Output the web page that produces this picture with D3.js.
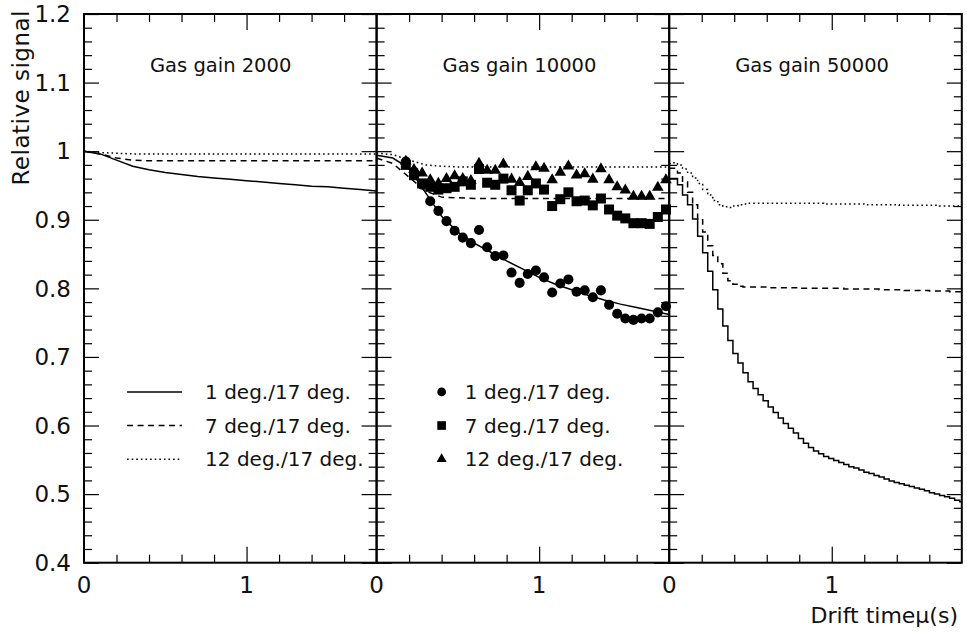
<!DOCTYPE html>
<html>
<head>
<meta charset="utf-8">
<script src="https://cdn.jsdelivr.net/npm/d3@7/dist/d3.min.js"></script>
<style>
  html, body { margin: 0; padding: 0; background: #fff; }
  svg { display: block; }
  text { font-family: "DejaVu Sans", sans-serif; fill: #111; }
</style>
</head>
<body>
<svg id="chart" width="967" height="632"></svg>
<script>
// ---- data -------------------------------------------------------------
const panelTitles = ["Gas gain 2000", "Gas gain 10000", "Gas gain 50000"];
const seriesNames = ["1 deg./17 deg.", "7 deg./17 deg.", "12 deg./17 deg."];
const xTickValues = [0, 1];
const xTickLabels = ["0", "1"];
const yTickValues = [0.4, 0.5, 0.6, 0.7, 0.8, 0.9, 1.0, 1.1, 1.2];
const yTickLabels = ["0.4", "0.5", "0.6", "0.7", "0.8", "0.9", "1", "1.1", "1.2"];
const yTitle = "Relative signal";
const xTitleText = "Drift timeμ(s)";

// simulated curves, gas gain 2000 and 10000 (sampled every 0.1 us)
const curveT = [0, 0.1, 0.2, 0.3, 0.4, 0.5, 0.6, 0.7, 0.8, 0.9, 1.0,
                1.1, 1.2, 1.3, 1.4, 1.5, 1.6, 1.7, 1.8];
const g2000_1deg  = [1.000, 0.996, 0.987, 0.978, 0.973, 0.969, 0.966, 0.963, 0.961, 0.959,
                     0.957, 0.955, 0.953, 0.951, 0.949, 0.948, 0.946, 0.944, 0.942];
const g2000_7deg  = [1.000, 0.996, 0.990, 0.987, 0.986, 0.986, 0.986, 0.986, 0.986, 0.986,
                     0.986, 0.986, 0.986, 0.986, 0.986, 0.986, 0.986, 0.986, 0.986];
const g2000_12deg = [1.000, 0.998, 0.997, 0.996, 0.996, 0.996, 0.996, 0.996, 0.996, 0.996,
                     0.996, 0.996, 0.996, 0.996, 0.996, 0.996, 0.996, 0.996, 0.996];
const g10000_1deg  = [0.994, 0.990, 0.975, 0.940, 0.905, 0.882, 0.866, 0.853, 0.840, 0.828,
                      0.816, 0.806, 0.798, 0.790, 0.783, 0.777, 0.772, 0.767, 0.762];
const g10000_7deg  = [0.990, 0.982, 0.962, 0.942, 0.933, 0.932, 0.931, 0.931, 0.931, 0.931,
                      0.931, 0.931, 0.931, 0.931, 0.931, 0.931, 0.931, 0.931, 0.931];
const g10000_12deg = [0.997, 0.995, 0.987, 0.980, 0.978, 0.977, 0.977, 0.977, 0.977, 0.977,
                      0.977, 0.977, 0.977, 0.977, 0.977, 0.977, 0.977, 0.977, 0.977];

// measured points, gas gain 10000
const measT = [0.18, 0.23, 0.28, 0.33, 0.38, 0.43, 0.48, 0.53, 0.58, 0.63, 0.68,
               0.73, 0.78, 0.83, 0.88, 0.93, 0.98, 1.03, 1.08, 1.13, 1.18, 1.23,
               1.28, 1.33, 1.38, 1.43, 1.48, 1.53, 1.58, 1.63, 1.68, 1.73, 1.78];
const meas1deg  = [0.985, 0.970, 0.951, 0.927, 0.913, 0.898, 0.884, 0.874, 0.866, 0.885, 0.860,
                   0.847, 0.848, 0.823, 0.808, 0.821, 0.826, 0.816, 0.794, 0.807, 0.813, 0.795,
                   0.797, 0.787, 0.797, 0.776, 0.763, 0.756, 0.754, 0.756, 0.756, 0.765, 0.774];
const meas7deg  = [0.980, 0.965, 0.953, 0.948, 0.944, 0.946, 0.948, 0.956, 0.951, 0.974, 0.954,
                   0.951, 0.960, 0.943, 0.928, 0.943, 0.953, 0.944, 0.920, 0.930, 0.940, 0.927,
                   0.928, 0.921, 0.931, 0.915, 0.906, 0.902, 0.895, 0.895, 0.894, 0.904, 0.915];
const meas12deg = [0.985, 0.973, 0.968, 0.958, 0.953, 0.960, 0.964, 0.960, 0.957, 0.982, 0.972,
                   0.972, 0.981, 0.959, 0.954, 0.963, 0.977, 0.975, 0.958, 0.969, 0.978, 0.965,
                   0.967, 0.959, 0.974, 0.958, 0.948, 0.943, 0.934, 0.934, 0.934, 0.947, 0.958];

// simulated histograms, gas gain 50000 (bins of 0.031 us starting at -0.011 us)
const histStart = -0.011;
const histWidth = 0.031;
const g50000_1deg = [0.960, 0.960, 0.951, 0.936, 0.922, 0.901, 0.876, 0.852, 0.825, 0.798,
                     0.770, 0.745, 0.724, 0.705, 0.691, 0.677, 0.664, 0.654, 0.645, 0.636,
                     0.627, 0.619, 0.611, 0.603, 0.596, 0.589, 0.581, 0.574, 0.568, 0.563,
                     0.559, 0.555, 0.552, 0.549, 0.546, 0.543, 0.540, 0.538, 0.535, 0.532,
                     0.530, 0.527, 0.525, 0.522, 0.519, 0.517, 0.515, 0.513, 0.511, 0.509,
                     0.507, 0.505, 0.502, 0.500, 0.498, 0.496, 0.494, 0.491, 0.489];
const g50000_7deg = [0.975, 0.975, 0.968, 0.955, 0.940, 0.922, 0.900, 0.882, 0.862, 0.848,
                     0.836, 0.822, 0.811, 0.806, 0.803, 0.802, 0.802, 0.802, 0.802, 0.802,
                     0.801, 0.801, 0.801, 0.801, 0.801, 0.801, 0.800, 0.800, 0.800, 0.800,
                     0.800, 0.800, 0.800, 0.800, 0.800, 0.799, 0.799, 0.799, 0.799, 0.799,
                     0.799, 0.799, 0.798, 0.798, 0.798, 0.798, 0.798, 0.797, 0.797, 0.797,
                     0.797, 0.797, 0.796, 0.796, 0.796, 0.796, 0.795, 0.795, 0.795];
const g50000_12deg = [0.982, 0.983, 0.980, 0.974, 0.968, 0.961, 0.953, 0.944, 0.936, 0.928,
                      0.922, 0.919, 0.918, 0.920, 0.922, 0.923, 0.924, 0.924, 0.924, 0.924,
                      0.924, 0.924, 0.924, 0.924, 0.924, 0.924, 0.924, 0.924, 0.924, 0.924,
                      0.924, 0.923, 0.923, 0.923, 0.923, 0.923, 0.923, 0.923, 0.923, 0.922,
                      0.922, 0.922, 0.922, 0.922, 0.922, 0.922, 0.921, 0.921, 0.921, 0.921,
                      0.921, 0.921, 0.921, 0.921, 0.920, 0.920, 0.920, 0.920, 0.920];

// ---- layout -----------------------------------------------------------
const svg = d3.select("#chart");
const plotLeft = 84, plotTop = 14, plotBottom = 562.7;
const panelW = 292.6;
const xMax = 1.8;

const y = d3.scaleLinear().domain([0.4, 1.2]).range([plotBottom, plotTop]);
const xScales = [0, 1, 2].map(i =>
  d3.scaleLinear().domain([0, xMax]).range([plotLeft + i * panelW, plotLeft + (i + 1) * panelW]));

const dashStyles = [null, "6,4.5", "1.6,3"];

// ---- curves -----------------------------------------------------------
function drawLine(x, ts, vs, style, curve) {
  const line = d3.line().x(d => x(d[0])).y(d => y(d[1])).curve(curve || d3.curveLinear);
  svg.append("path")
    .datum(ts.map((t, i) => [t, vs[i]]))
    .attr("d", line)
    .attr("fill", "none")
    .attr("stroke", "#000")
    .attr("stroke-width", 1.5)
    .attr("stroke-dasharray", style);
}

[g2000_1deg, g2000_7deg, g2000_12deg].forEach((vs, i) =>
  drawLine(xScales[0], curveT, vs, dashStyles[i]));
[g10000_1deg, g10000_7deg, g10000_12deg].forEach((vs, i) =>
  drawLine(xScales[1], curveT, vs, dashStyles[i]));

// step histograms: one point per bin low edge, clipped to the axis range
[g50000_1deg, g50000_7deg, g50000_12deg].forEach((vs, i) => {
  const ts = [], vals = [];
  vs.forEach((v, k) => {
    ts.push(Math.max(0, histStart + k * histWidth));
    vals.push(v);
  });
  ts.push(xMax); vals.push(vs[vs.length - 1]);
  drawLine(xScales[2], ts, vals, dashStyles[i], d3.curveStepAfter);
});

// ---- measured points --------------------------------------------------
const symbols = [d3.symbolCircle, d3.symbolSquare, d3.symbolTriangle];
const symbolSizes = [80, 100, 58];
[meas1deg, meas7deg, meas12deg].forEach((vs, i) => {
  svg.append("g").selectAll("path")
    .data(measT.map((t, k) => [t, vs[k]]))
    .join("path")
    .attr("transform", d => `translate(${xScales[1](d[0])},${y(d[1])})`)
    .attr("d", d3.symbol(symbols[i], symbolSizes[i]))
    .attr("fill", "#000");
});

// ---- frames and ticks -------------------------------------------------
const yMinor = d3.range(20, 61, 1).map(v => v / 50).filter(v => Math.abs(v * 10 - Math.round(v * 10)) > 1e-6);
const xMinor = [0.2, 0.4, 0.6, 0.8, 1.2, 1.4, 1.6];

function cleanAxis(g) { g.select(".domain").remove(); g.selectAll("line").attr("stroke", "#000").attr("stroke-width", 1.2); }

xScales.forEach((x, i) => {
  const r0 = x.range()[0], r1 = x.range()[1];
  // bottom / top
  svg.append("g").attr("transform", `translate(0,${plotBottom})`)
    .call(d3.axisBottom(x).tickValues([1]).tickSize(-16).tickFormat("")).call(cleanAxis);
  svg.append("g").attr("transform", `translate(0,${plotBottom})`)
    .call(d3.axisBottom(x).tickValues(xMinor).tickSize(-8).tickFormat("")).call(cleanAxis);
  svg.append("g").attr("transform", `translate(0,${plotTop})`)
    .call(d3.axisTop(x).tickValues([1]).tickSize(-16).tickFormat("")).call(cleanAxis);
  svg.append("g").attr("transform", `translate(0,${plotTop})`)
    .call(d3.axisTop(x).tickValues(xMinor).tickSize(-8).tickFormat("")).call(cleanAxis);
  // left / right
  svg.append("g").attr("transform", `translate(${r0},0)`)
    .call(d3.axisLeft(y).tickValues(yTickValues).tickSize(-15).tickFormat("")).call(cleanAxis);
  svg.append("g").attr("transform", `translate(${r0},0)`)
    .call(d3.axisLeft(y).tickValues(yMinor).tickSize(-8).tickFormat("")).call(cleanAxis);
  svg.append("g").attr("transform", `translate(${r1},0)`)
    .call(d3.axisRight(y).tickValues(yTickValues).tickSize(-15).tickFormat("")).call(cleanAxis);
  svg.append("g").attr("transform", `translate(${r1},0)`)
    .call(d3.axisRight(y).tickValues(yMinor).tickSize(-8).tickFormat("")).call(cleanAxis);

  svg.append("rect")
    .attr("x", r0).attr("y", plotTop).attr("width", r1 - r0).attr("height", plotBottom - plotTop)
    .attr("fill", "none").attr("stroke", "#000").attr("stroke-width", 2);

  // x tick labels
  svg.append("g").selectAll("text")
    .data(xTickValues)
    .join("text")
    .attr("x", d => x(d))
    .attr("y", 593)
    .attr("text-anchor", "middle")
    .style("font-size", "23px")
    .text((d, k) => xTickLabels[k]);

  // panel title
  svg.append("text")
    .attr("x", x(0.406))
    .attr("y", 72)
    .style("font-size", "19.5px")
    .text(panelTitles[i]);
});

// y tick labels
svg.append("g").selectAll("text")
  .data(yTickValues)
  .join("text")
  .attr("x", 71)
  .attr("y", d => y(d))
  .attr("dy", "0.36em")
  .attr("text-anchor", "end")
  .style("font-size", "23px")
  .text((d, k) => yTickLabels[k]);

// axis titles
svg.append("text")
  .attr("transform", "translate(28.5,10) rotate(-90)")
  .attr("text-anchor", "end")
  .style("font-size", "23px")
  .style("letter-spacing", "0.5px")
  .text(yTitle);

svg.append("text")
  .attr("x", 958).attr("y", 623)
  .attr("text-anchor", "end")
  .style("font-size", "22px")
  .text(xTitleText);

// ---- legends ----------------------------------------------------------
const legendV = [0.649, 0.600, 0.551];
seriesNames.forEach((name, i) => {
  const x = xScales[0];
  svg.append("line")
    .attr("x1", x(0.265)).attr("x2", x(0.603))
    .attr("y1", y(legendV[i])).attr("y2", y(legendV[i]))
    .attr("stroke", "#000").attr("stroke-width", 1.5)
    .attr("stroke-dasharray", dashStyles[i]);
  svg.append("text")
    .attr("x", x(0.745)).attr("y", y(legendV[i])).attr("dy", "0.36em")
    .style("font-size", "20px")
    .text(name);

  const x2 = xScales[1];
  svg.append("path")
    .attr("transform", `translate(${x2(0.40)},${y(legendV[i])})`)
    .attr("d", d3.symbol(symbols[i], symbolSizes[i] * 0.75))
    .attr("fill", "#000");
  svg.append("text")
    .attr("x", x2(0.543)).attr("y", y(legendV[i])).attr("dy", "0.36em")
    .style("font-size", "20px")
    .text(name);
});
</script>
</body>
</html>
